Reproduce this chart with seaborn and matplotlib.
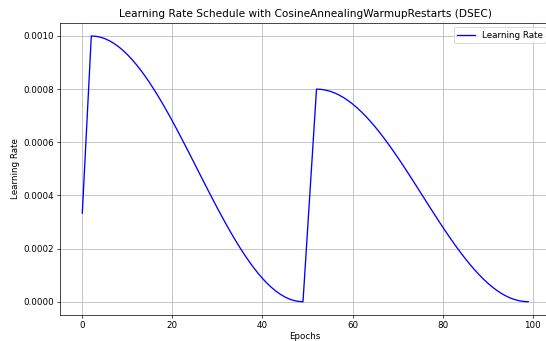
import matplotlib
matplotlib.use("Agg")
import matplotlib.pyplot as plt
import seaborn as sns
import pandas as pd

epochs = list(range(100))

# learning rate values (units of 1e-4)
warmup_1 = [3.3333, 6.6667]
cycle_1 = [10.0000, 9.9888, 9.9554, 9.8998, 9.8224, 9.7234, 9.6033, 9.4626,
           9.3020, 9.1222, 8.9240, 8.7083, 8.4760, 8.2282, 7.9659, 7.6904,
           7.4029, 7.1047, 6.7971, 6.4814, 6.1592, 5.8317, 5.5005, 5.1671,
           4.8329, 4.4995, 4.1683, 3.8408, 3.5186, 3.2029, 2.8953, 2.5971,
           2.3096, 2.0341, 1.7718, 1.5240, 1.2917, 1.0760, 0.8778, 0.6980,
           0.5374, 0.3967, 0.2766, 0.1776, 0.1002, 0.0446, 0.0112, 0.0000]
warmup_2 = [2.6667, 5.3333]
cycle_2 = [8.0000, 7.9911, 7.9643, 7.9199, 7.8579, 7.7787, 7.6826, 7.5701,
           7.4416, 7.2978, 7.1392, 6.9666, 6.7808, 6.5826, 6.3727, 6.1523,
           5.9223, 5.6838, 5.4377, 5.1851, 4.9274, 4.6654, 4.4004, 4.1337,
           3.8663, 3.5996, 3.3346, 3.0726, 2.8149, 2.5623, 2.3162, 2.0777,
           1.8477, 1.6273, 1.4174, 1.2192, 1.0334, 0.8608, 0.7022, 0.5584,
           0.4299, 0.3174, 0.2213, 0.1421, 0.0802, 0.0357, 0.0089, 0.0000]

lr = [v * 1e-4 for v in warmup_1 + cycle_1 + warmup_2 + cycle_2]
df = pd.DataFrame({"Epochs": epochs, "Learning Rate": lr})

DPI = 63.15
fig = plt.figure(figsize=(546 / DPI, 341 / DPI), dpi=DPI)
ax = fig.add_axes([60 / 546, 1 - 315 / 341, (550.5 - 60) / 546, (315 - 22.7) / 341])
sns.lineplot(data=df, x="Epochs", y="Learning Rate", color="blue",
             label="Learning Rate", ax=ax, linewidth=1.5)
ax.set_title("Learning Rate Schedule with CosineAnnealingWarmupRestarts (DSEC)")
ax.set_xlabel("Epochs", labelpad=2.5)
ax.set_ylabel("Learning Rate")
ax.grid(True)
ax.legend(loc="upper right")
fig.savefig("out.png", dpi=DPI)
